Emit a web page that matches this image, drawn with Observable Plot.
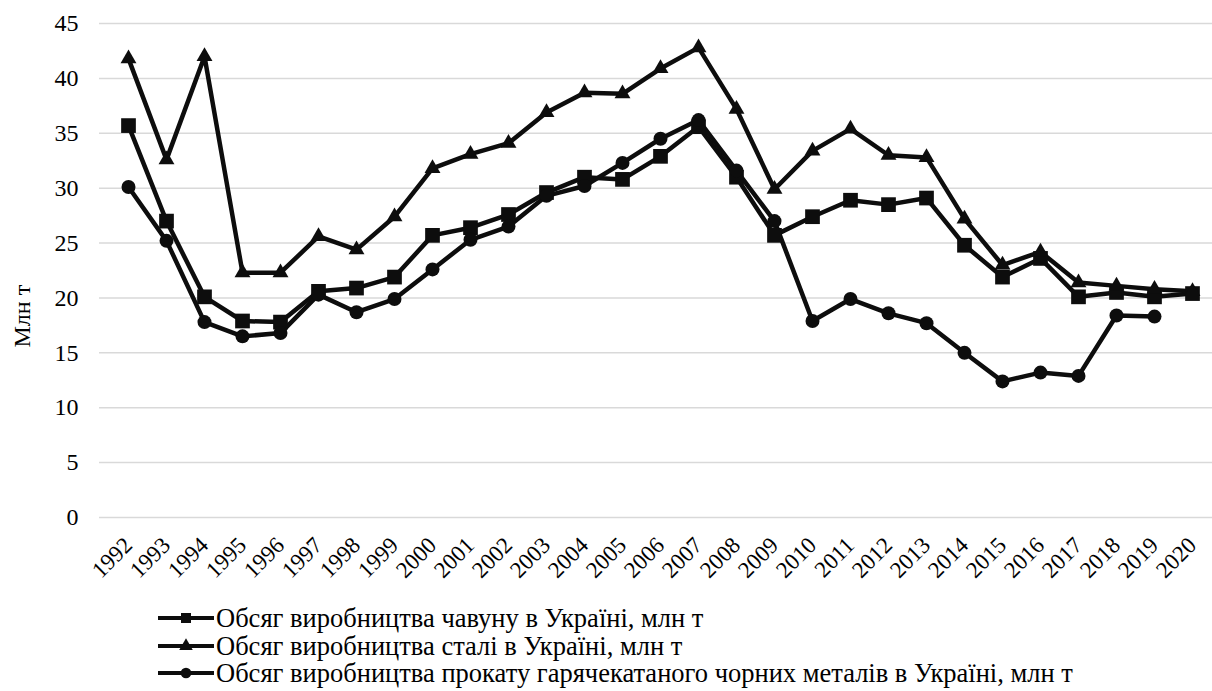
<!DOCTYPE html>
<html><head><meta charset="utf-8">
<script src="https://cdn.jsdelivr.net/npm/d3@7"></script>
<script src="https://cdn.jsdelivr.net/npm/@observablehq/plot@0.6"></script>
<style>
body{margin:0;background:#fff;font-family:'Liberation Serif','Tinos','DejaVu Serif','Noto Serif',serif;}
#wrap{position:relative;width:1212px;height:691px;overflow:hidden;}
#wrap svg text{font-family:'Liberation Serif','Tinos','DejaVu Serif',serif;}
.row{position:absolute;left:156px;height:24px;display:flex;align-items:center;font-size:26.5px;line-height:24px;color:#000;white-space:nowrap;font-family:'Liberation Serif','Tinos','DejaVu Serif',serif;}
.row svg{flex:none;}
</style></head><body><div id="wrap"></div><script>
const years = ["1992","1993","1994","1995","1996","1997","1998","1999","2000","2001","2002","2003","2004","2005","2006","2007","2008","2009","2010","2011","2012","2013","2014","2015","2016","2017","2018","2019","2020"];
const pigIron = [35.7,27.0,20.1,17.9,17.8,20.6,20.9,21.9,25.7,26.4,27.6,29.6,31.0,30.8,32.9,35.6,31.0,25.7,27.4,28.9,28.5,29.1,24.8,21.9,23.6,20.1,20.5,20.1,20.4];
const steel = [41.8,32.6,42.0,22.3,22.3,25.6,24.4,27.4,31.8,33.1,34.1,36.9,38.7,38.6,40.9,42.8,37.2,29.9,33.4,35.4,33.0,32.8,27.2,23.0,24.2,21.4,21.1,20.8,20.6];
const rolled = [30.1,25.2,17.8,16.5,16.8,20.3,18.7,19.9,22.6,25.3,26.5,29.3,30.2,32.3,34.5,36.2,31.6,27.0,17.9,19.9,18.6,17.7,15.0,12.4,13.2,12.9,18.4,18.3,null];
const yTicks = [0,5,10,15,20,25,30,35,40,45];
const seriesNames = [
  "Обсяг виробництва чавуну в Україні, млн т",
  "Обсяг виробництва сталі в Україні, млн т",
  "Обсяг виробництва прокату гарячекатаного чорних металів в Україні, млн т"
];
const seriesSymbols = ["square","triangle","circle"];
const yLabel = "Млн т";

const INK = "#0d0d0d";
const FONT = "'Liberation Serif','Tinos','DejaVu Serif',serif";
const toRows = (vals) => years.map((y,i)=>({year:y, value:vals[i]})).filter(d=>d.value!=null);
const sets = [toRows(pigIron), toRows(steel), toRows(rolled)];
const rSizes = {square:8.3, triangle:5.9, circle:7};

const marks = [
  Plot.ruleY(yTicks, {stroke:"#d9d9d9", strokeWidth:1.5}),
  Plot.axisY({ticks: yTicks, tickSize:0, tickPadding:21, fontSize:24, label:null, tickFormat: d=>String(d)}),
  Plot.text(years, {x: d=>d, frameAnchor:"bottom", dy:24, rotate:-45, textAnchor:"end", lineAnchor:"middle", fontSize:23, fill:"#000"}),
  Plot.text([yLabel], {frameAnchor:"left", dx:-77, dy:77, rotate:-90, fontSize:24, fill:"#000"})
];
sets.forEach((data,i)=>{
  marks.push(Plot.line(data, {x:"year", y:"value", stroke:INK, strokeWidth:4.5, strokeLinejoin:"round"}));
});
sets.forEach((data,i)=>{
  marks.push(Plot.dot(data, {x:"year", y:"value", symbol:()=>seriesSymbols[i], r:rSizes[seriesSymbols[i]], fill:INK, stroke:"none"}));
});

const chart = Plot.plot({
  width:1212, height:605,
  marginLeft:99, marginRight:0, marginTop:23, marginBottom:88,
  style:{fontFamily:FONT, fontSize:"23px", color:"#000", background:"#fff"},
  x:{type:"point", domain:years, range:[99,1221], padding:0.5, axis:null},
  y:{domain:[0,45], axis:null},
  symbol:{domain:seriesSymbols, range:seriesSymbols},
  marks
});
const wrap = document.getElementById("wrap");
wrap.appendChild(chart);

const legendSizes = {square:100, triangle:80, circle:90};
const symMap = {square:d3.symbolSquare, triangle:d3.symbolTriangle, circle:d3.symbolCircle};
seriesNames.forEach((name,i)=>{
  const row = document.createElement("div");
  row.className = "row";
  row.style.top = (606 + 27.5*i) + "px";
  const svg = d3.create("svg").attr("width",60).attr("height",24);
  svg.append("line").attr("x1",2).attr("x2",58).attr("y1",12).attr("y2",12).attr("stroke",INK).attr("stroke-width",4);
  svg.append("path").attr("transform","translate(30,12)").attr("d", d3.symbol(symMap[seriesSymbols[i]], legendSizes[seriesSymbols[i]])()).attr("fill",INK);
  row.appendChild(svg.node());
  const span = document.createElement("span");
  span.textContent = name;
  row.appendChild(span);
  wrap.appendChild(row);
});
</script></body></html>
